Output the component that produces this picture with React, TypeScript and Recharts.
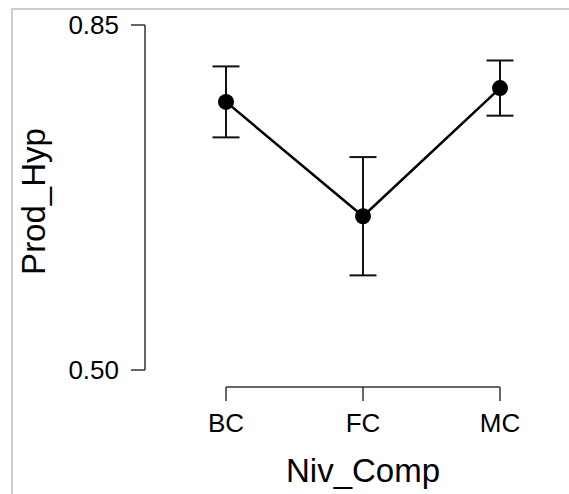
import { LineChart, Line, XAxis, YAxis, ErrorBar, ReferenceLine, Label } from "recharts";

const categories = ["BC", "FC", "MC"];
const means = [0.772, 0.656, 0.786];
const errors = [0.036, 0.06, 0.028];
const yTicks = [0.5, 0.85];

const FONT = "'Liberation Sans', Arial, sans-serif";
const INK = "#000";
const AXIS = "#333";

const data = categories.map((name, i) => ({ name, mean: means[i], err: errors[i] }));

// R draws the x axis a little below the y range, offset like base graphics
const yMin = yTicks[0];
const yMax = yTicks[yTicks.length - 1];
const xAxisY = yMin - (yMax - yMin) * (17 / 345);

function XTick(props: any) {
  const { x, y, payload } = props;
  return (
    <g>
      <line x1={x} x2={x} y1={y + 17} y2={y + 31} stroke={AXIS} strokeWidth={1.5} />
      <text x={x} y={y + 62} textAnchor="middle" fontSize={26} fill={INK} fontFamily={FONT}>
        {payload.value}
      </text>
    </g>
  );
}

function YTitle(props: any) {
  const vb = props.viewBox;
  const cx = vb.x + 45;
  const cy = vb.y + vb.height / 2 + 4;
  return (
    <text x={cx} y={cy} transform={`rotate(-90, ${cx}, ${cy})`} textAnchor="middle" fontSize={33} fill={INK} fontFamily={FONT}>
      Prod_Hyp
    </text>
  );
}

function XTitle(props: any) {
  const vb = props.viewBox;
  return (
    <text x={vb.x + vb.width / 2} y={vb.y + 112} textAnchor="middle" fontSize={33} fill={INK} fontFamily={FONT}>
      Niv_Comp
    </text>
  );
}

export default function App() {
  return (
    <div style={{ position: "relative", width: 569, height: 494, overflow: "hidden", background: "#fff" }}>
      <style>{"body{margin:0}"}</style>
      <div
        style={{
          position: "absolute",
          left: 11,
          top: 8,
          width: 620,
          height: 620,
          border: "2px solid #cdcdcd",
        }}
      />
      <div style={{ position: "absolute", left: 0, top: 0 }}>
        <LineChart width={600} height={494} data={data} margin={{ top: 25, right: 19, bottom: 0, left: 0 }} style={{ fontFamily: FONT }}>
          <XAxis
            dataKey="name"
            scale="point"
            padding={{ left: 81, right: 81 }}
            axisLine={false}
            tickLine={false}
            tickSize={0}
            tickMargin={0}
            interval={0}
            height={124}
            tick={<XTick />}
          >
            <Label content={<XTitle />} />
          </XAxis>
          <YAxis
            type="number"
            domain={[yMin, yMax]}
            ticks={yTicks}
            width={145}
            tickSize={14}
            tickMargin={12}
            axisLine={{ stroke: AXIS, strokeWidth: 1.5 }}
            tickLine={{ stroke: AXIS, strokeWidth: 1.5 }}
            tick={{ fontSize: 26, fill: INK, fontFamily: FONT }}
            tickFormatter={(v: number) => v.toFixed(2)}
          >
            <Label content={<YTitle />} />
          </YAxis>
          <ReferenceLine
            segment={[
              { x: categories[0], y: xAxisY },
              { x: categories[categories.length - 1], y: xAxisY },
            ]}
            ifOverflow="visible"
            stroke={AXIS}
            strokeWidth={1.5}
          />
          <Line
            dataKey="mean"
            stroke={INK}
            strokeWidth={2.5}
            dot={{ r: 8, fill: INK, stroke: INK, strokeWidth: 0 }}
            activeDot={false}
            isAnimationActive={false}
          >
            <ErrorBar dataKey="err" direction="y" width={13.5} stroke="#111" strokeWidth={2} />
          </Line>
        </LineChart>
      </div>
    </div>
  );
}
